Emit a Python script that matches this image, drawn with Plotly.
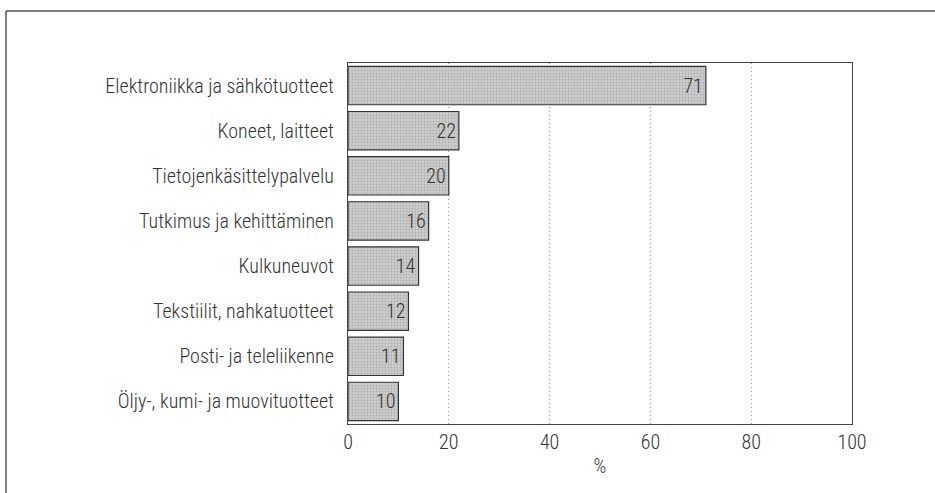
import plotly.graph_objects as go

# toimialat ja osuudet (%)
categories = [
    "Elektroniikka ja sähkötuotteet",
    "Koneet, laitteet",
    "Tietojenkäsittelypalvelu",
    "Tutkimus ja kehittäminen",
    "Kulkuneuvot",
    "Tekstiilit, nahkatuotteet",
    "Posti- ja teleliikenne",
    "Öljy-, kumi- ja muovituotteet",
]
values = [71, 22, 20, 16, 14, 12, 11, 10]
x_ticks = [0, 20, 40, 60, 80, 100]

W, H = 935, 493
ML, MR, MT, MB = 348, 83, 63, 69
pw = W - ML - MR
ph = H - MT - MB

FONT = "Roboto Condensed, DejaVu Sans Condensed, sans-serif"
FS = 20

fig = go.Figure()
fig.add_trace(go.Bar(
    y=categories[::-1],
    x=values[::-1],
    orientation="h",
    text=[str(v) for v in values[::-1]],
    textposition="inside",
    insidetextanchor="end",
    textfont=dict(color="#333", size=FS, family=FONT, weight=300),
    marker=dict(color="#c4c4c4", line=dict(color="#333", width=1.2),
                pattern=dict(shape=".", fgcolor="#8f8f8f", bgcolor="#cdcdcd", size=3, solidity=0.3)),
    cliponaxis=False,
    hoverinfo="skip",
))

def px_x(p):
    return (p - ML) / pw

def px_y(p):
    return (H - MB - p) / ph

# ulkokehys (vasen ja ylä)
fig.add_shape(type="line", xref="paper", yref="paper",
              x0=px_x(6), x1=px_x(935), y0=px_y(11), y1=px_y(11),
              line=dict(color="#555", width=1.5))
fig.add_shape(type="line", xref="paper", yref="paper",
              x0=px_x(6), x1=px_x(6), y0=px_y(11), y1=px_y(493),
              line=dict(color="#555", width=1.5))

fig.update_layout(
    width=W, height=H,
    margin=dict(l=ML, r=MR, t=MT, b=MB),
    paper_bgcolor="white", plot_bgcolor="white",
    bargap=0.15,
    showlegend=False,
    font=dict(family=FONT, size=FS, color="#333", weight=300),
    xaxis=dict(
        range=[0, 100], tickvals=x_ticks, ticks="",
        showgrid=True, gridcolor="#999", griddash="1px,3px", gridwidth=1,
        showline=True, linecolor="#444", linewidth=1.2, mirror=True,
        zeroline=False, automargin=False,
        title=dict(text="%", standoff=5, font=dict(size=FS, weight=300)),
        tickfont=dict(size=FS, weight=300),
    ),
    yaxis=dict(
        showline=True, linecolor="#444", linewidth=1.2, mirror=True,
        ticks="", ticksuffix="  ", showgrid=False, automargin=False,
        tickfont=dict(size=FS, weight=300),
    ),
)

fig.write_html("out.html", config={"displayModeBar": False},
               post_script="document.body.style.margin='0';")
